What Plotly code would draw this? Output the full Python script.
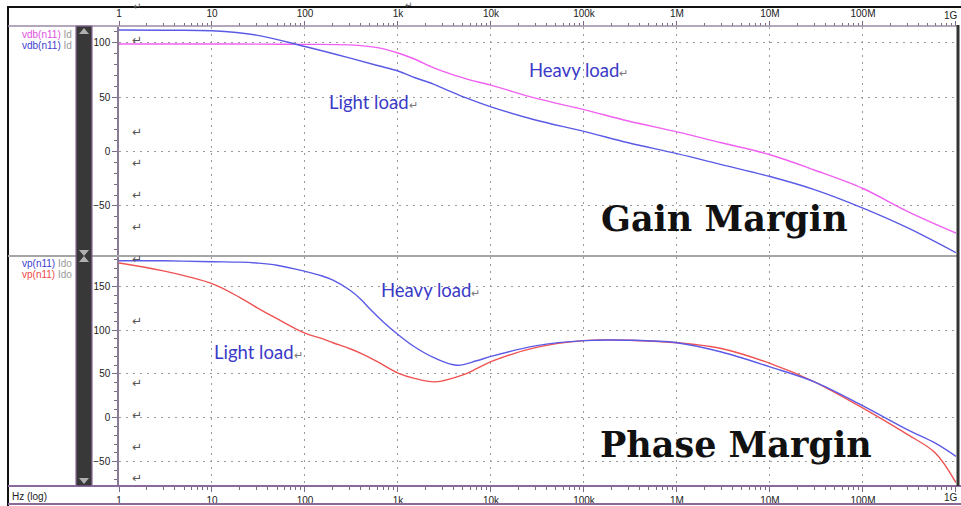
import plotly.graph_objects as go

W, H = 961, 506

# ---------------- data ----------------
tick_vals = [1, 10, 100, 1e3, 1e4, 1e5, 1e6, 1e7, 1e8, 1e9]
tick_text = ["1", "10", "100", "1k", "10k", "100k", "1M", "10M", "100M", "1G"]

freq_gain = [1, 3, 10, 30, 100, 300, 600, 1e3, 1.5e3, 2.4e3, 3.6e3, 5.5e3, 1e4, 3e4, 1e5, 3e5, 1e6, 3e6, 1e7, 3e7,
             1e8, 3e8, 1e9]
gain_light = [111.7, 111.5, 111, 107, 96.5, 86, 79, 74, 68, 62, 55.5, 49, 41, 29, 18.5, 8, -2, -12, -23, -35,
              -52, -70, -93]
gain_heavy = [98.8, 98.8, 98.8, 98.7, 98.5, 98, 95.5, 90.5, 85, 77, 71.5, 66.5, 61, 49, 38.5, 28, 18, 8, -3, -17,
              -34, -55, -75]

freq_phase_light = [1, 3, 10, 20, 30, 50, 100, 150, 200, 300, 400, 600, 1e3, 1.5e3, 2.5e3, 5e3, 7e3, 1e4, 3e4,
                    1e5, 3e5, 1e6, 3e6, 1e7, 3e7, 1e8, 3e8, 6e8, 1e9]
phase_light = [176.5, 167.5, 153, 137, 126, 113, 96.5, 90.5, 85.6, 79, 73.5, 64, 51, 45, 41, 49, 56, 64, 80,
               88, 88.5, 85.6, 79, 62, 41, 11, -19, -40, -74]

freq_phase_heavy = [1, 3, 10, 20, 30, 50, 100, 150, 200, 300, 400, 500, 700, 1e3, 1.5e3, 2.5e3, 4.3e3, 7e3, 1e4,
                    3e4, 1e5, 3e5, 1e6, 3e6, 1e7, 3e7, 1e8, 3e8, 6e8, 1e9]
phase_heavy = [179, 179, 178, 177.5, 176.5, 174, 167, 162, 157, 146, 135, 124, 109, 95, 81, 68, 60, 65, 70,
               82, 88, 88.5, 85.6, 75, 58, 41, 13.6, -13.6, -29, -44]

gain_ticks = [-50, 0, 50, 100]
phase_ticks = [-50, 0, 50, 100, 150]
minor_vals = [m * 10 ** d for d in range(9) for m in range(2, 10)]

BLUE = "#5a5ae6"
PINK = "#f060f0"
RED = "#f05252"
TXT_BLUE = "#3a3ac8"


def px(x):
    return x / W


def py(y):
    return 1 - y / H


line_style = dict(width=1.4, shape="spline", smoothing=1.0)
fig = go.Figure()
fig.add_trace(go.Scatter(x=freq_gain, y=gain_heavy, mode="lines", line=dict(color=PINK, **line_style),
                         xaxis="x", yaxis="y", showlegend=False))
fig.add_trace(go.Scatter(x=freq_gain, y=gain_light, mode="lines", line=dict(color=BLUE, **line_style),
                         xaxis="x", yaxis="y", showlegend=False))
fig.add_trace(go.Scatter(x=freq_phase_light, y=phase_light, mode="lines", line=dict(color=RED, **line_style),
                         xaxis="x2", yaxis="y2", showlegend=False))
fig.add_trace(go.Scatter(x=freq_phase_heavy, y=phase_heavy, mode="lines", line=dict(color=BLUE, **line_style),
                         xaxis="x2", yaxis="y2", showlegend=False))

xdom = [px(119), px(956)]
grid = dict(showgrid=True, gridcolor="#9a9a9a", gridwidth=1, griddash="2px,5px")
tickfont = dict(family="Liberation Sans, Arial", size=10, color="#222")

# last label (at the right edge) is drawn as a right-aligned annotation so it stays inside the page
axis_text = tick_text[:-1] + [""]

xcommon = dict(type="log", range=[0, 9.0005], domain=xdom, tickmode="array", tickvals=tick_vals, ticktext=axis_text,
               ticks="outside", ticklen=5, tickcolor="#7a6a86", tickfont=tickfont, zeroline=False,
               showline=False, automargin=False,
               minor=dict(tickmode="array", tickvals=minor_vals, ticks="outside", ticklen=3,
                          tickcolor="#7a6a86", showgrid=False), **grid)

ycommon = dict(ticks="outside", ticklen=5, tickcolor="#7a6a86", tickfont=tickfont, zeroline=False,
               showline=True, linecolor="#8a7a96", linewidth=1.5, tickmode="array", automargin=False,
               minor=dict(dtick=10, ticks="outside", ticklen=3, tickcolor="#7a6a86", showgrid=False), **grid)

g_top, g_bot = 27, 255
p_top, p_bot = 257, 486


def yrange(y_top, y_bot, v0_px, scale):
    return [(v0_px - y_bot) / scale, (v0_px - y_top) / scale]


fig.update_layout(
    width=W, height=H, margin=dict(l=0, r=0, t=0, b=0),
    paper_bgcolor="white", plot_bgcolor="white",
    xaxis=dict(anchor="y", side="top", **xcommon),
    yaxis=dict(anchor="x", domain=[py(g_bot), py(g_top)], range=yrange(g_top, g_bot, 151.5, 1.088),
               tickvals=gain_ticks, **ycommon),
    xaxis2=dict(anchor="y2", side="bottom", **xcommon),
    yaxis2=dict(anchor="x2", domain=[py(p_bot), py(p_top)], range=yrange(p_top, p_bot, 417.8, 0.877),
                tickvals=phase_ticks, **ycommon),
)

shapes = []
# frame lines
shapes.append(dict(type="line", xref="paper", yref="paper", x0=px(7), x1=px(961), y0=py(7), y1=py(7), line=dict(color="#111", width=2)))
shapes.append(dict(type="line", xref="paper", yref="paper", x0=px(8), x1=px(8), y0=py(6), y1=py(506), line=dict(color="#111", width=2)))
shapes.append(dict(type="line", xref="paper", yref="paper", x0=px(8), x1=px(957), y0=py(26), y1=py(26), line=dict(color="#9b8aa6", width=1.5)))
shapes.append(dict(type="line", xref="paper", yref="paper", x0=px(8), x1=px(961), y0=py(486), y1=py(486), line=dict(color="#8a6a9a", width=2)))
shapes.append(dict(type="line", xref="paper", yref="paper", x0=px(8), x1=px(961), y0=py(504), y1=py(504), line=dict(color="#8a6a9a", width=2)))
shapes.append(dict(type="line", xref="paper", yref="paper", x0=px(8), x1=px(957), y0=py(256), y1=py(256), line=dict(color="#a6a6a6", width=2)))
shapes.append(dict(type="line", xref="paper", yref="paper", x0=px(958), x1=px(958), y0=py(25), y1=py(486), line=dict(color="#333", width=3)))
# dark scroll bar
shapes.append(dict(type="rect", xref="paper", yref="paper", x0=px(76), x1=px(92), y0=py(486), y1=py(26),
                   fillcolor="#383838", line=dict(color="#8a6a9a", width=1.2)))


def tri(x0, x1, ya, yb):
    xm = (x0 + x1) / 2
    return dict(type="path", xref="paper", yref="paper",
                path=f"M {px(x0)} {py(ya)} L {px(x1)} {py(ya)} L {px(xm)} {py(yb)} Z",
                fillcolor="#b0b0b0", line=dict(width=0))


shapes.append(tri(79, 89, 34, 28))
shapes.append(tri(79, 89, 478, 484))
shapes.append(tri(79, 89, 250, 256))
shapes.append(tri(79, 89, 262, 256))
fig.update_layout(shapes=shapes)

ann = []


def text(x, y, s, size=10, color="#222", family="Liberation Sans, Arial", xanchor="center", bold=False):
    ann.append(dict(xref="paper", yref="paper", x=px(x), y=py(y), text=(f"<b>{s}</b>" if bold else s), showarrow=False,
                    xanchor=xanchor, yanchor="middle", font=dict(size=size, color=color, family=family)))


# right-edge tick label on both frequency axes
text(960, 15, tick_text[-1], size=10, xanchor="right")
text(960, 497, tick_text[-1], size=10, xanchor="right")

RET = "<span style='color:#777;font-size:11px'>↵</span>"
# left legend labels
text(20, 34, "<span style='color:#e050e0'>vdb(n11)</span> <span style='color:#999'>Id</span>", size=10, xanchor="left")
text(20, 45, "<span style='color:#4040d0'>vdb(n11)</span> <span style='color:#999'>Id</span>", size=10, xanchor="left")
text(20, 263, "<span style='color:#4040d0'>vp(n11)</span> <span style='color:#999'>Ido</span>", size=10, xanchor="left")
text(20, 274, "<span style='color:#f04848'>vp(n11)</span> <span style='color:#999'>Ido</span>", size=10, xanchor="left")
text(10, 496, "Hz (log)", size=10, color="#222", xanchor="left")

# load labels
lbl_font = "Lato, Carlito, Open Sans"
text(527, 70, "Heavy load" + RET, size=18.5, color=TXT_BLUE, family=lbl_font, xanchor="left")
text(327, 102, "Light load" + RET, size=18.5, color=TXT_BLUE, family=lbl_font, xanchor="left")
text(379, 290, "Heavy load" + RET, size=18.5, color=TXT_BLUE, family=lbl_font, xanchor="left")
text(212, 352, "Light load" + RET, size=18.5, color=TXT_BLUE, family=lbl_font, xanchor="left")

# big titles
text(724, 219, "Gain Margin", size=35, color="#111", family="DejaVu Serif", bold=True)
text(736, 444, "Phase Margin", size=35, color="#111", family="DejaVu Serif", bold=True)

# return marks
for yy in [40, 132, 163, 195, 227, 259, 321, 383, 415, 447, 478]:
    text(137, yy, "↵", size=12, color="#555", family="DejaVu Sans")
text(137, 6, "↵", size=10, color="#555", family="DejaVu Sans")
text(409, 5, "↵", size=9, color="#555", family="DejaVu Sans")

fig.update_layout(annotations=ann)
fig.write_html("out.html", config={"displayModeBar": False},
               post_script="document.body.style.margin='0';document.body.style.overflow='hidden';")
